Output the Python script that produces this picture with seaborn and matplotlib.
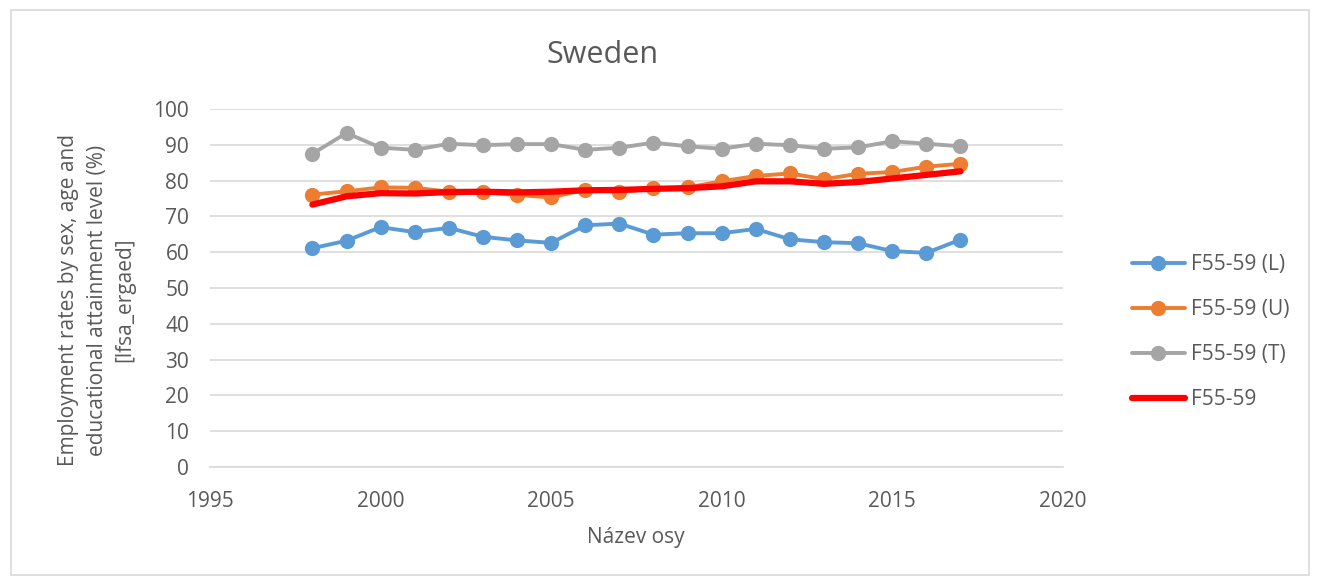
import pandas as pd
import matplotlib.pyplot as plt
import seaborn as sns
from matplotlib.patches import Rectangle

years = list(range(1998, 2018))
low = [61.1, 63.2, 67.0, 65.6, 66.8, 64.3, 63.3, 62.6, 67.5, 68.0, 64.9, 65.3, 65.3, 66.5, 63.6, 62.8, 62.5, 60.3, 59.8, 63.5]
upper = [76.1, 77.0, 78.1, 78.0, 76.9, 76.7, 76.0, 75.3, 77.5, 76.8, 77.8, 78.1, 79.8, 81.3, 82.0, 80.4, 81.9, 82.4, 83.9, 84.7]
tertiary = [87.5, 93.3, 89.2, 88.6, 90.3, 89.9, 90.2, 90.2, 88.6, 89.2, 90.6, 89.6, 88.9, 90.3, 89.9, 88.9, 89.3, 91.0, 90.3, 89.6]
total = [73.3, 75.6, 76.5, 76.4, 76.8, 76.9, 76.7, 76.9, 77.3, 77.4, 77.7, 77.9, 78.4, 79.8, 79.8, 79.1, 79.6, 80.6, 81.6, 82.6]

names = ["F55-59 (L)", "F55-59 (U)", "F55-59 (T)", "F55-59"]
colors = ["#5b9bd5", "#ed7d31", "#a5a5a5", "#ff0000"]

df = pd.DataFrame({"year": years, names[0]: low, names[1]: upper, names[2]: tertiary, names[3]: total})

sns.set_style("white")
plt.rcParams['font.family'] = ['Open Sans', 'DejaVu Sans']
txt = "#595959"
fs = 15

fig = plt.figure(figsize=(13.17, 5.8), dpi=100)
ax = fig.add_axes([0.1595, 0.195, 0.6475, 0.617])

for name, c in zip(names[:3], colors[:3]):
    sns.lineplot(data=df, x="year", y=name, ax=ax, color=c, linewidth=2.8,
                 marker="o", markersize=11, markeredgewidth=0, label=name)
sns.lineplot(data=df, x="year", y=names[3], ax=ax, color=colors[3], linewidth=4.5,
             label=names[3])

ax.set_xlim(1995, 2020)
ax.set_ylim(0, 100)
ax.set_xticks(range(1995, 2021, 5))
ax.set_yticks(range(0, 101, 10))
ax.yaxis.grid(True, color="#d9d9d9", linewidth=1.2)
ax.xaxis.grid(False)
for s in ["top", "right", "left"]:
    ax.spines[s].set_visible(False)
ax.spines["bottom"].set_color("#d9d9d9")
ax.spines["bottom"].set_linewidth(1.2)
ax.tick_params(axis="y", length=0, labelsize=fs, colors=txt, pad=15)
ax.tick_params(axis="x", length=0, labelsize=fs, colors=txt, pad=17)
ax.set_xlabel("")
ax.set_ylabel("")

fig.text(602 / 1317, 1 - 55 / 580, "Sweden", fontsize=22, color=txt, ha="center", va="center")
fig.text(636 / 1317, 1 - 538 / 580, "Název osy", fontsize=fs, color=txt, ha="center", va="center")
fig.text(97 / 1317, 1 - 300 / 580,
         "Employment rates by sex, age and\neducational attainment level (%)\n[lfsa_ergaed]",
         fontsize=fs, color=txt, ha="center", va="center", rotation=90,
         multialignment="center", linespacing=1.45)

ax.legend(loc="center left", bbox_to_anchor=(1122 / 1317, 1 - 332 / 580),
          bbox_transform=fig.transFigure, frameon=False, borderpad=0,
          fontsize=fs, labelcolor=txt, handlelength=2.5, labelspacing=1.15,
          handletextpad=0.3)

fig.patches.append(Rectangle((0.008, 0.008), 0.986, 0.975, transform=fig.transFigure,
                             fill=False, edgecolor="#d9d9d9", linewidth=1.2))

fig.savefig("out.png", dpi=100, facecolor="white")
